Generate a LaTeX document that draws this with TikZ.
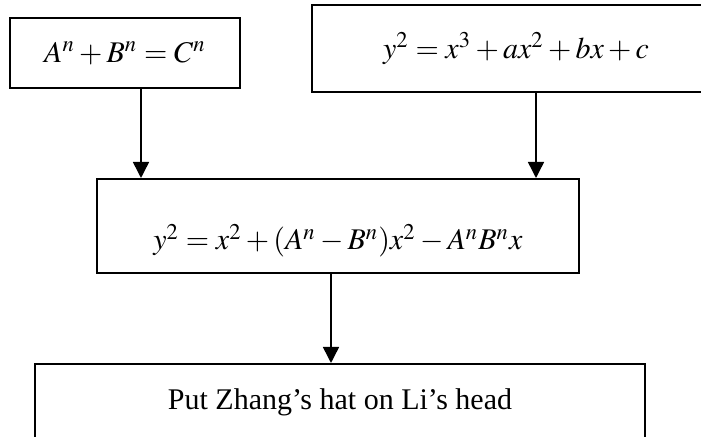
\documentclass[tikz,border=0pt]{standalone}
\usepackage{amsmath}
\usepackage{mathptmx}
\usepackage[no-math]{fontspec}
\setmainfont{Liberation Serif}
\usepackage{tikz}
\usetikzlibrary{arrows.meta}
\tikzset{
    box/.style={draw, line width=0.8pt, inner sep=0pt, font=\fontsize{12}{14}\selectfont},
    flow/.style={line width=0.6pt, -{Triangle[length=6.4pt, width=6.4pt]}}
}

\begin{document}
\begin{tikzpicture}[x=0.4pt, y=-0.4pt]
    \useasboundingbox (0,0) rectangle (701,437);
    \clip (0,0) rectangle (701,437);

    % The two equations
    \node[box, minimum width=92pt, minimum height=28pt] (fermat) at (125,53) {$A^n+B^n=C^n$};
    \node[box, minimum width=163.2pt, minimum height=34.8pt] (curve) at (516,48.5) {$y^2=x^3+ax^2+bx+c$};

    % Combined curve
    \node[box, minimum width=192.8pt, text height=28.4pt, text depth=9.2pt] (frey) at (338,226)
        {$y^2=x^2+(A^n-B^n)x^2-A^nB^nx$};

    % Result
    \node[box, minimum width=244pt, text height=18.4pt, text depth=20pt] (hat) at (340,412)
        {Put Zhang's hat on Li's head};

    % Arrows
    \draw[flow] ([xshift=6.4pt]fermat.south) -- ([xshift=6.4pt]fermat.south |- frey.north);
    \draw[flow] ([xshift=8pt]curve.south) -- ([xshift=8pt]curve.south |- frey.north);
    \draw[flow] ([xshift=-2.8pt]frey.south) -- ([xshift=-2.8pt]frey.south |- hat.north);
\end{tikzpicture}
\end{document}
